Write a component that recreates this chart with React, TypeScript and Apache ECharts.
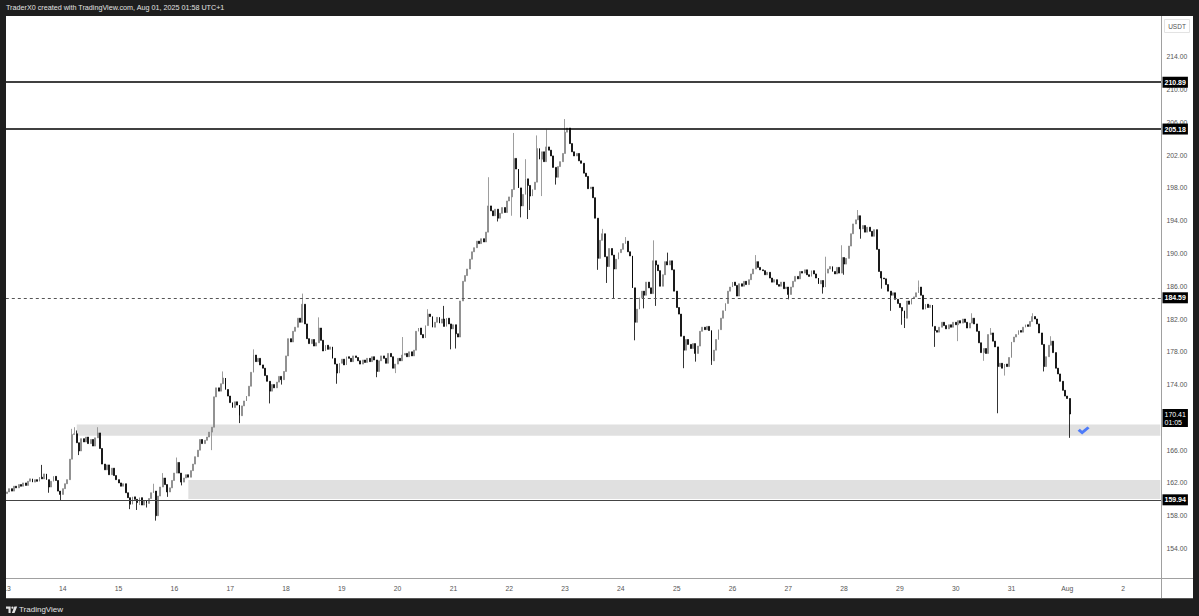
import React, { useEffect, useRef } from "react";
import * as echarts from "echarts";

// ---------- data (hourly candles, UTC+1) ----------
const dayLabels = ["13", "14", "15", "16", "17", "18", "19", "20", "21", "22", "23", "24", "25", "26", "27", "28", "29", "30", "31", "Aug", "2"];
const totalSlots = 497; // hourly slots shown on the time axis (Jul 13 00:00 -> Aug 2 ~16:00)

const firstOpen = 160.7;
const closesJul13 = [160.9, 161.3, 161.0, 161.6, 161.4, 161.8, 161.6, 162.0, 161.7, 162.2, 162.5, 162.1, 162.4, 162.2, 162.7, 162.5, 163.1, 162.4, 161.5, 162.2, 162.8, 162.3, 161.0, 160.6];
const closesJul14 = [161.3, 161.9, 162.4, 164.9, 167.9, 168.0, 166.9, 165.9, 167.4, 167.0, 167.6, 166.8, 167.3, 166.5, 167.5, 168.1, 166.2, 164.3, 163.6, 164.2, 163.0, 163.8, 162.9, 162.4];
const closesJul15 = [162.0, 161.6, 161.9, 160.8, 160.2, 159.4, 160.3, 160.0, 159.6, 160.2, 159.3, 159.8, 159.5, 160.1, 160.8, 161.0, 158.0, 160.4, 161.5, 162.6, 161.8, 160.9, 161.4, 162.3];
const closesJul16 = [163.2, 164.5, 163.2, 162.1, 162.6, 163.0, 162.7, 163.5, 164.3, 165.2, 166.0, 167.3, 166.8, 167.2, 167.6, 168.2, 168.8, 172.5, 173.6, 173.2, 174.1, 174.8, 173.4, 172.6];
const closesJul17 = [171.8, 171.2, 171.9, 171.5, 170.2, 171.4, 172.0, 172.6, 173.8, 175.5, 177.6, 176.8, 177.2, 176.4, 176.0, 175.1, 174.4, 173.2, 174.0, 173.6, 174.3, 175.0, 174.6, 175.6];
const closesJul18 = [177.5, 179.6, 179.2, 180.5, 181.0, 182.1, 181.6, 183.8, 181.4, 179.6, 179.0, 179.5, 178.7, 179.1, 180.9, 179.4, 178.1, 178.8, 178.3, 178.6, 177.2, 176.5, 175.4, 176.6];
const closesJul19 = [177.1, 176.4, 177.4, 177.2, 176.8, 177.5, 177.3, 176.9, 176.5, 177.0, 176.7, 177.2, 176.8, 177.4, 177.0, 175.6, 176.9, 177.5, 177.2, 176.6, 177.8, 177.4, 176.0, 176.5];
const closesJul20 = [177.2, 176.9, 177.6, 177.8, 177.4, 178.0, 177.5, 178.2, 180.5, 180.9, 180.1, 179.7, 181.2, 182.6, 182.3, 181.0, 181.6, 182.2, 181.5, 182.0, 181.1, 182.1, 181.4, 180.8];
const closesJul21 = [181.3, 180.2, 179.8, 184.2, 186.6, 187.3, 188.1, 189.3, 190.2, 190.7, 191.5, 191.2, 191.8, 191.4, 192.6, 195.8, 195.2, 194.6, 195.4, 194.3, 194.9, 195.6, 195.0, 196.4];
const closesJul22 = [196.9, 197.8, 201.6, 200.3, 198.0, 195.8, 197.2, 199.1, 198.3, 197.0, 197.8, 198.7, 202.8, 201.5, 202.4, 201.2, 203.0, 202.6, 201.9, 200.5, 199.3, 200.6, 201.2, 202.2];
const closesJul23 = [204.8, 205.3, 203.4, 202.4, 201.9, 202.2, 201.3, 201.0, 199.8, 199.4, 197.9, 198.1, 196.8, 194.3, 189.4, 191.6, 192.4, 189.6, 188.4, 190.6, 189.8, 188.1, 189.3, 190.1];
const closesJul24 = [190.5, 191.2, 191.5, 190.2, 189.7, 185.8, 181.6, 183.2, 184.6, 185.4, 184.9, 186.5, 185.8, 185.1, 189.1, 188.6, 187.9, 186.0, 187.4, 189.0, 188.6, 189.1, 188.0, 185.4];
const closesJul25 = [183.4, 182.6, 179.9, 178.2, 179.5, 178.9, 178.4, 179.0, 177.8, 178.7, 180.5, 181.0, 180.7, 181.1, 180.6, 176.9, 178.2, 179.5, 180.7, 182.1, 183.0, 183.9, 185.4, 185.9];
const closesJul26 = [186.5, 186.1, 184.8, 186.3, 186.0, 186.6, 186.2, 186.8, 187.5, 188.1, 189.0, 188.3, 188.0, 187.9, 187.4, 187.7, 187.0, 186.5, 186.8, 186.2, 186.0, 186.5, 185.7, 185.9];
const closesJul27 = [185.0, 185.9, 186.6, 187.2, 186.9, 187.8, 187.6, 188.0, 187.4, 187.2, 187.9, 187.5, 187.0, 186.3, 186.7, 185.9, 187.6, 188.1, 188.4, 187.8, 187.5, 188.3, 187.6, 189.5];
const closesJul28 = [188.7, 189.4, 190.9, 192.4, 193.6, 194.1, 194.6, 193.0, 193.4, 192.6, 193.2, 192.7, 192.1, 192.9, 190.5, 187.8, 187.0, 186.9, 186.2, 185.4, 184.9, 185.2, 184.4, 183.9];
const closesJul29 = [183.4, 183.0, 182.1, 184.2, 183.8, 184.5, 184.7, 185.2, 185.9, 184.9, 183.2, 183.8, 183.4, 183.7, 181.1, 180.6, 180.4, 181.0, 181.6, 181.2, 180.8, 181.3, 181.0, 181.6];
const closesJul30 = [181.3, 181.8, 181.5, 182.0, 181.6, 180.9, 181.5, 182.1, 181.4, 180.5, 179.1, 177.9, 178.4, 177.8, 180.1, 180.3, 179.3, 178.6, 176.2, 176.6, 176.0, 176.5, 176.2, 177.3];
const closesJul31 = [179.2, 179.8, 180.1, 180.6, 180.4, 181.0, 181.3, 181.1, 181.7, 182.3, 182.0, 181.4, 180.3, 178.9, 176.2, 177.4, 178.8, 179.3, 177.9, 176.0, 175.3, 174.4, 173.3, 172.6];
const closesAug01 = [172.3, 170.41];

// wick extremes seen on the reference: [candle index, price]
const wickHighs: [number, number][] = [
  [15, 164.2], [28, 168.6], [29, 168.8], [30, 168.4], [39, 168.8], [63, 161.9], [67, 163.2], [73, 165.1], [93, 175.6],
  [106, 178.3], [127, 185.1], [134, 182.2], [170, 179.8], [181, 183.2], [188, 183.6], [207, 199.3], [218, 204.7],
  [223, 201.5], [228, 204.4], [232, 205.1], [240, 206.4], [256, 193.0], [266, 192.0], [278, 191.6], [284, 190.1],
  [322, 189.8], [352, 189.6], [359, 191.0], [366, 195.3], [392, 186.7], [415, 182.7], [423, 180.9], [441, 182.7],
  [449, 179.9],
];
const wickLows: [number, number][] = [
  [18, 160.8], [23, 159.8], [31, 165.4], [53, 158.8], [56, 158.7], [57, 159.3], [60, 159.0], [64, 157.4], [69, 160.3],
  [75, 161.7], [88, 166.0], [100, 169.3], [113, 171.7], [118, 174.0], [142, 174.1], [159, 174.9], [167, 175.4],
  [191, 178.3], [193, 178.4], [211, 193.9], [217, 194.6], [221, 194.4], [224, 194.2], [225, 195.3], [230, 197.0],
  [236, 198.4], [254, 188.0], [258, 186.4], [261, 184.5], [270, 179.4], [274, 183.3], [279, 183.6], [291, 176.0],
  [296, 176.8], [303, 176.4], [336, 184.4], [351, 185.1], [360, 187.4], [367, 191.8], [376, 185.7], [380, 183.0],
  [385, 181.3], [386, 180.9], [399, 178.6], [409, 179.3], [420, 176.9], [426, 170.5], [429, 175.1], [446, 175.6],
  [457, 167.5],
];

// horizontal levels
const solidLevels = [210.89, 205.18];
const dashedLevel = 184.59;
const supportLevel = 159.94;
const lastPrice = 170.41;
const countdown = "01:05";

// demand zones: start candle index, top, bottom
const zoneStarts = [30, 78];
const zoneTops = [169.13, 162.37];
const zoneBottoms = [167.75, 160.05];

// 170.00 sits under the last-price tag in the reference, so it is not listed
const priceTicks = [154, 158, 162, 166, 174, 178, 182, 186, 190, 194, 198, 202, 206, 210, 214];
const priceMin = 150.4;
const priceMax = 218.85;

const checkMark: [number, number] = [463, 168.4];

const headerText = "TraderX0 created with TradingView.com, Aug 01, 2025 01:58 UTC+1";

// ---------- shapes ----------
echarts.graphic.registerShape(
  "tvlogo",
  echarts.graphic.extendPath(
    "M0 0H6.6V9H3.6V3H0Z M7.6 1.6a1.6 1.6 0 1 0 3.2 0a1.6 1.6 0 1 0 -3.2 0Z M12 0H16L12.2 9H8.4Z",
    {}
  ) as any
);

const FONT = '"Liberation Sans", Arial, sans-serif';
const DARK = "#1e1e1e";
const UP = "#858585";

export default function App() {
  const ref = useRef<HTMLDivElement>(null);

  useEffect(() => {
    document.body.style.margin = "0";
    const el = ref.current!;
    const chart = echarts.init(el, null, { renderer: "svg" });

    const closes = [
      ...closesJul13, ...closesJul14, ...closesJul15, ...closesJul16, ...closesJul17,
      ...closesJul18, ...closesJul19, ...closesJul20, ...closesJul21, ...closesJul22,
      ...closesJul23, ...closesJul24, ...closesJul25, ...closesJul26, ...closesJul27,
      ...closesJul28, ...closesJul29, ...closesJul30, ...closesJul31, ...closesAug01,
    ];
    const hiMap = new Map(wickHighs);
    const loMap = new Map(wickLows);
    const ohlc = closes.map((c, i) => {
      const o = i === 0 ? firstOpen : closes[i - 1];
      const h = hiMap.has(i) ? Math.max(hiMap.get(i)!, o, c) : Math.max(o, c);
      const l = loMap.has(i) ? Math.min(loMap.get(i)!, o, c) : Math.min(o, c);
      return [o, c, l, h];
    });

    const cats: string[] = [];
    for (let k = 0; k < totalSlots; k++) {
      cats.push(`${dayLabels[Math.floor(k / 24)]}|${k % 24}`);
    }

    const tagLabel = {
      show: true,
      position: "end",
      distance: 1,
      backgroundColor: "#000",
      color: "#fff",
      fontFamily: FONT,
      fontSize: 7,
      fontWeight: "bold",
      padding: [2, 2, 1, 2],
      lineHeight: 8,
    };

    const markLineData: any[] = [
      ...solidLevels.map((v) => ({
        yAxis: v,
        lineStyle: { color: "#000", width: 1.6, type: "solid" },
        label: { ...tagLabel, formatter: v.toFixed(2) },
      })),
      {
        yAxis: dashedLevel,
        lineStyle: { color: "#555", width: 1, type: [3, 3] },
        label: { ...tagLabel, formatter: dashedLevel.toFixed(2) },
      },
      {
        yAxis: supportLevel,
        lineStyle: { color: "#444", width: 1, type: "solid" },
        label: { ...tagLabel, formatter: supportLevel.toFixed(2) },
      },
      {
        yAxis: lastPrice,
        lineStyle: { color: "rgba(0,0,0,0)", width: 0 },
        label: {
          ...tagLabel,
          formatter: `${lastPrice.toFixed(2)}\n${countdown}`,
          fontWeight: "normal",
          padding: [1, 2, 1, 2],
          offset: [0, 4],
        },
      },
    ];

    const markAreaData: any[] = zoneStarts.map((s, i) => [
      { xAxis: cats[s], yAxis: zoneTops[i] },
      { xAxis: cats[totalSlots - 1], yAxis: zoneBottoms[i] },
    ]);

    const option: any = {
      animation: false,
      backgroundColor: DARK,
      textStyle: { fontFamily: FONT },
      grid: { left: 5.8, right: 37.5, top: 17, bottom: 38 },
      xAxis: {
        type: "category",
        data: cats,
        boundaryGap: true,
        axisLine: { show: false },
        axisTick: { show: false },
        splitLine: { show: false },
        axisLabel: {
          interval: (_idx: number, val: string) => val.endsWith("|0"),
          formatter: (val: string) => val.split("|")[0],
          color: "#555",
          fontSize: 6.8,
          fontFamily: FONT,
          margin: 7,
          hideOverlap: false,
        },
      },
      yAxis: {
        type: "value",
        position: "right",
        min: priceMin,
        max: priceMax,
        scale: true,
        axisLine: { show: false },
        axisTick: { show: false },
        splitLine: { show: false },
        axisLabel: {
          customValues: priceTicks,
          formatter: (v: number) => v.toFixed(2),
          color: "#555",
          fontSize: 6.8,
          fontFamily: FONT,
          margin: 5,
          align: "left",
        },
      },
      series: [
        {
          type: "candlestick",
          data: ohlc,
          barWidth: 1.4,
          itemStyle: {
            color: UP,
            color0: "#000000",
            borderColor: UP,
            borderColor0: "#000000",
            borderWidth: 0.8,
          },
          markLine: {
            silent: true,
            symbol: ["none", "none"],
            data: markLineData,
          },
          markArea: {
            silent: true,
            itemStyle: { color: "#e0e0e0", borderWidth: 0 },
            data: markAreaData,
          },
        },
        {
          type: "scatter",
          z: 5,
          data: [checkMark],
          symbol: "path://M0 5.2L2.3 2.9L4.6 5.2L10 0L12.2 2.2L4.6 9.8Z",
          symbolSize: [12, 8],
          itemStyle: { color: "#2962ff" },
          silent: true,
        },
      ],
      graphic: [
        { type: "rect", z: -100, shape: { x: 6, y: 16, width: 1187, height: 582.5 }, style: { fill: "#ffffff" }, silent: true },
        { type: "line", z: 50, shape: { x1: 1161.5, y1: 16, x2: 1161.5, y2: 598.5 }, style: { stroke: "#a0a0a0", lineWidth: 1 }, silent: true },
        { type: "line", z: 50, shape: { x1: 6, y1: 578.5, x2: 1193, y2: 578.5 }, style: { stroke: "#a0a0a0", lineWidth: 1 }, silent: true },
        { type: "rect", z: 50, shape: { x: 1164.5, y: 19.5, width: 25, height: 13 }, style: { fill: "#fff", stroke: "#e3e3e3", lineWidth: 1 }, silent: true },
        {
          type: "text", z: 51, x: 1177, y: 26.2,
          style: { text: "USDT", fill: "#555", fontSize: 6.5, fontFamily: FONT, align: "center", verticalAlign: "middle" },
          silent: true,
        },
        { type: "rect", z: 100, shape: { x: 0, y: 0, width: 6, height: 616 }, style: { fill: DARK }, silent: true },
        { type: "rect", z: 100, shape: { x: 1193, y: 0, width: 6, height: 616 }, style: { fill: DARK }, silent: true },
        { type: "rect", z: 100, shape: { x: 0, y: 598.5, width: 1199, height: 18 }, style: { fill: DARK }, silent: true },
        { type: "rect", z: 100, shape: { x: 0, y: 0, width: 1199, height: 16 }, style: { fill: DARK }, silent: true },
        {
          type: "text", z: 101, x: 6, y: 7.6,
          style: { text: headerText, fill: "#e2e2e2", fontSize: 7.2, fontFamily: FONT, verticalAlign: "middle" },
          silent: true,
        },
        { type: "tvlogo", z: 101, x: 6, y: 606.5, scaleX: 0.7, scaleY: 0.72, style: { fill: "#e2e2e2" }, silent: true },
        {
          type: "text", z: 101, x: 19, y: 609.8,
          style: { text: "TradingView", fill: "#e2e2e2", fontSize: 8, fontFamily: FONT, verticalAlign: "middle" },
          silent: true,
        },
      ],
    };

    chart.setOption(option);
    return () => chart.dispose();
  }, []);

  return <div ref={ref} style={{ width: 1199, height: 616 }} />;
}
